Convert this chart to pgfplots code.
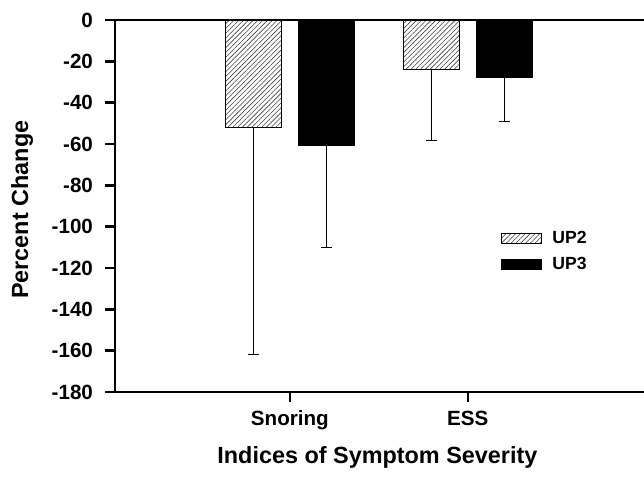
\documentclass[border=0pt]{standalone}
\usepackage{pgfplots}
\pgfplotsset{compat=1.18}
\usepackage{fontspec}
\setmainfont{Liberation Sans}
\usetikzlibrary{patterns.meta}

\begin{document}
\begin{tikzpicture}
\begin{axis}[
  at={(0,0)}, anchor=south west,
  scale only axis, width=264.5pt, height=186pt,
  xmin=0.017, xmax=2.99, ymin=-180, ymax=0,
  axis x line=bottom, axis y line=left,
  axis line style={-, line width=1.3pt},
  xtick={1,2}, xticklabels={\textbf{Snoring},\textbf{ESS}},
  ytick={-180,-160,-140,-120,-100,-80,-60,-40,-20,0},
  yticklabels={\textbf{-180},\textbf{-160},\textbf{-140},\textbf{-120},\textbf{-100},\textbf{-80},\textbf{-60},\textbf{-40},\textbf{-20},\textbf{0}},
  tick align=outside, major tick length=5pt,
  tick style={line width=1.2pt, black},
  ticklabel style={font=\bfseries\fontsize{10.3}{12}\selectfont},
  yticklabel style={xshift=-2.5pt},
  xticklabel style={yshift=-1pt},
  xlabel={Indices of Symptom Severity}, ylabel={Percent Change},
  every axis y label/.style={at={(axis description cs:-0.1758,0.49)}, rotate=90, anchor=center, font=\bfseries\fontsize{11.7}{13}\selectfont},
  every axis x label/.style={at={(axis description cs:0.496,-0.1747)}, anchor=center, font=\bfseries\fontsize{11.7}{13}\selectfont},
  ybar, bar width=0.315,
  legend style={draw=none, fill=none, at={(0.728,0.445)}, anchor=north west,
    font=\bfseries\fontsize{8.8}{10}\selectfont, inner sep=0pt, row sep=1.5pt,
    column sep=3.5pt},
  legend cell align=left,
  legend image code/.code={\draw[#1, line width=0.4pt] (0pt,-2.5pt) rectangle (20pt,2.5pt);},
  clip=false,
  error bars/y dir=minus, error bars/y explicit,
  error bars/error bar style={line width=0.5pt, black},
  error bars/error mark options={rotate=90, mark size=2.6pt, line width=0.5pt, black},
]
\addplot[draw=black, line width=0.4pt, fill=white, pattern={Lines[angle=45, distance=1.7pt, line width=0.3pt]}, pattern color=black!75, bar shift=-0.205]
  coordinates {(1,-52) +- (0,110) (2,-24) +- (0,34.5)};
\addlegendentry{\textbf{UP2}}
\addplot[draw=black, fill=black, line width=0.4pt, bar shift=0.205]
  coordinates {(1,-60.5) +- (0,49.5) (2,-28) +- (0,21)};
\addlegendentry{\textbf{UP3}}
\draw[line width=1.3pt] (rel axis cs:0,1) -- (rel axis cs:1,1);
\end{axis}
\pgfresetboundingbox
\path[use as bounding box] (-57.5pt,-46.5pt) rectangle (264.5pt,196pt);
\end{tikzpicture}
\end{document}
